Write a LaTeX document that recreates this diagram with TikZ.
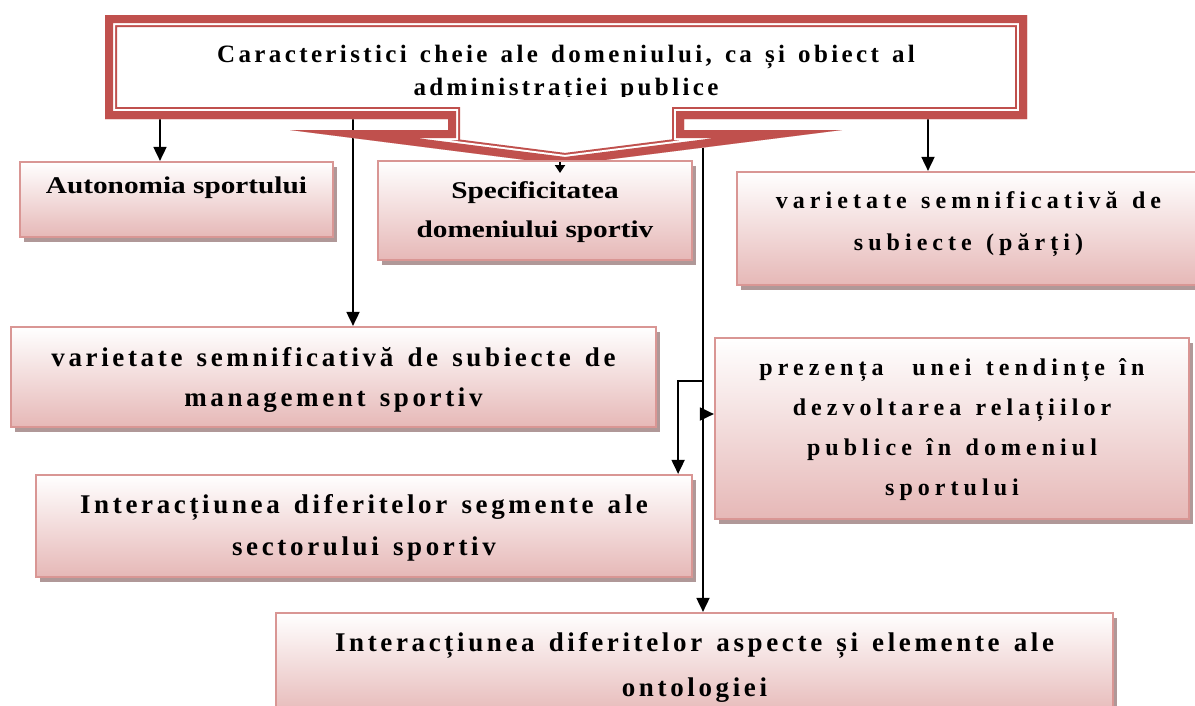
\documentclass[tikz,border=0pt]{standalone}
\usepackage{fontspec}
\setmainfont{Liberation Serif}
\newfontfamily\serifA[FakeStretch=1.22]{Liberation Serif}
\newfontfamily\serifB[LetterSpace=21, WordSpace=1.3]{Liberation Serif}
\newfontfamily\serifC[LetterSpace=13.5, WordSpace=1.36]{Liberation Serif}
\usepackage{xcolor}
\usepackage{tikz}
\usetikzlibrary{arrows.meta,shadows,backgrounds}

\definecolor{framered}{RGB}{192,80,77}
\definecolor{boxline}{RGB}{217,150,148}
\definecolor{boxpink}{RGB}{230,184,183}
\definecolor{shadowgray}{RGB}{176,152,152}

\begin{document}
\begin{tikzpicture}[
  x=1pt, y=-1pt,
  pbox/.style={
    rectangle,
    draw=boxline,
    line width=2.2pt,
    top color=white,
    bottom color=boxpink,
    drop shadow={shadow xshift=4pt, shadow yshift=-5pt, fill=shadowgray, opacity=1},
    inner sep=0pt,
    align=flush center,
    text height=0pt
  },
  tA/.style={font=\serifA\bfseries\fontsize{24}{#1}\selectfont},
  tB/.style={font=\serifB\bfseries\fontsize{24}{#1}\selectfont},
  tC/.style 2 args={font=\serifC\bfseries\fontsize{#1}{#2}\selectfont},
  link/.style={line width=1.8pt},
  arr/.style={link, -{Triangle[length=14pt,width=13pt]}},
  arrs/.style={link, -{Triangle[length=8pt,width=10pt]}}
]

\path[use as bounding box] (0,0) rectangle (1195,705);
\clip (0,0) rectangle (1195,705);

% --- TITLE FRAME (double red border with arrow) ---
\def\titleframe{(105,15) -- (1027,15) -- (1027,119) -- (684,119) -- (684,130)
  -- (842,130) -- (565,165) -- (290,130) -- (448,130) -- (448,119) -- (105,119) -- cycle}
\begin{scope}
  \clip \titleframe;
  \fill[white] \titleframe;
  \draw[framered, line width=24pt] \titleframe;
  \draw[white, line width=20pt] \titleframe;
  \draw[framered, line width=16pt] \titleframe;
\end{scope}
\coordinate (tip) at (565,165);
\coordinate (notch) at (684,130);

\begin{scope}
  \clip (110,20) rectangle (1022,96);
  \node[tC={25}{33}, minimum width=922pt, minimum height=104pt, text width=900pt,
    inner sep=0pt, align=flush center, text height=0pt, text depth=10pt] (title) at (566,67)
    {Caracteristici cheie ale domeniului, ca și obiect al\\administrației publice};
\end{scope}

% --- BOXES ---
\node[pbox, tA=39, minimum width=313pt, text width=305pt, minimum height=75pt, text depth=12pt]
  (autonomie) at (176.5,199.5) {Autonomia sportului};

\node[pbox, tA=39, minimum width=314pt, text width=306pt, minimum height=99pt, text depth=25pt]
  (specific) at (535,210.5) {Specificitatea\\domeniului sportiv};

\node[pbox, tB=42, minimum width=463pt, text width=455pt, minimum height=113pt, text depth=41pt]
  (subiecte) at (968.5,228.5) {varietate semnificativă de\\subiecte (părți)};

\node[pbox, tC={27}{40}, minimum width=645pt, text width=637pt, minimum height=100pt, text depth=22pt]
  (management) at (333.5,377) {varietate semnificativă de subiecte de\\management sportiv};

\node[pbox, tB=40, minimum width=474pt, text width=466pt, minimum height=181pt, text depth=107pt]
  (relatii) at (952,428.5) {prezența\ \ unei tendințe în\\dezvoltarea relațiilor\\publice în domeniul\\sportului};

\node[pbox, tC={27}{42}, minimum width=656pt, text width=648pt, minimum height=102pt, text depth=26pt]
  (segmente) at (364,526) {Interacțiunea diferitelor segmente ale\\sectorului sportiv};

\node[pbox, tC={27}{45}, minimum width=837pt, text width=829pt, minimum height=104pt, text depth=28pt]
  (ontologie) at (694.5,665) {Interacțiunea diferitelor aspecte și elemente ale\\ontologiei};

% --- CONNECTORS ---
\coordinate (j1) at (703,381);
\coordinate (j2) at (703,414);

\begin{scope}[on background layer]
\draw[arr] ([xshift=-16.5pt]autonomie.north |- title.south) -- ([xshift=-16.5pt]autonomie.north);
\draw[arr] ([xshift=19.5pt]management.north |- title.south) -- ([xshift=19.5pt]management.north);
\draw[arr] ([xshift=-40.5pt]subiecte.north |- title.south) -- ([xshift=-40.5pt]subiecte.north);
\draw[arr] ([xshift=8.5pt]ontologie.north |- notch) -- ([xshift=8.5pt]ontologie.north);
\draw[arr] (j1) -| ([xshift=-15pt]segmente.north east);
\draw[arr] (j2) -- (j2 -| relatii.west);
\end{scope}

\draw[arrs] ([xshift=-5pt,yshift=3pt]tip) -- ([xshift=-5pt,yshift=-8pt]tip);

\end{tikzpicture}
\end{document}
